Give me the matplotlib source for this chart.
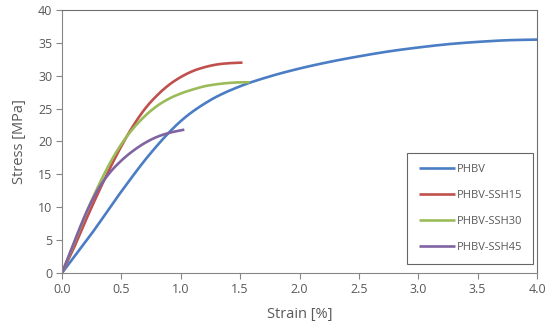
import matplotlib
matplotlib.use("Agg")
import matplotlib.pyplot as plt
import numpy as np

plt.rcParams['font.family'] = ['Open Sans', 'DejaVu Sans']

# strain [%] / stress [MPa]
phbv_strain = [0, 0.25, 0.5, 0.75, 1.0, 1.25, 1.5, 1.75, 2.0, 2.25, 2.5, 2.75, 3.0, 3.25, 3.5, 3.75, 4.0]
phbv_stress = [0, 6.0, 12.4, 18.3, 23.1, 26.3, 28.4, 29.9, 31.1, 32.1, 32.95, 33.7, 34.3, 34.8, 35.15, 35.4, 35.5]

ssh15_strain = [0, 0.1, 0.2, 0.3, 0.4, 0.5, 0.6, 0.7, 0.8, 0.9, 1.0, 1.1, 1.2, 1.3, 1.4, 1.52]
ssh15_stress = [0, 3.8, 8.0, 12.0, 15.8, 19.3, 22.4, 25.0, 27.0, 28.6, 29.8, 30.7, 31.3, 31.7, 31.9, 32.0]

ssh30_strain = [0, 0.1, 0.2, 0.3, 0.4, 0.5, 0.6, 0.7, 0.8, 0.9, 1.0, 1.1, 1.2, 1.3, 1.4, 1.5, 1.58]
ssh30_stress = [0, 4.5, 9.0, 13.0, 16.6, 19.6, 22.0, 23.9, 25.4, 26.5, 27.3, 27.9, 28.4, 28.7, 28.9, 29.0, 29.0]

ssh45_strain = [0, 0.1, 0.2, 0.3, 0.4, 0.5, 0.6, 0.7, 0.8, 0.9, 1.0, 1.03]
ssh45_stress = [0, 4.6, 9.0, 12.6, 15.2, 17.1, 18.6, 19.8, 20.7, 21.3, 21.7, 21.8]

labels = ['PHBV', 'PHBV-SSH15', 'PHBV-SSH30', 'PHBV-SSH45']
colors = ['#4a7dc4', '#c0504d', '#9bbb59', '#8064a2']


def smooth(x, y, n=20):
    # Catmull-Rom spline through the points, like Excel's smoothed line
    p = np.column_stack([x, y]).astype(float)
    p = np.vstack([2 * p[0] - p[1], p, 2 * p[-1] - p[-2]])
    out = []
    t = np.linspace(0, 1, n, endpoint=False)[:, None]
    for i in range(1, len(p) - 2):
        p0, p1, p2, p3 = p[i - 1], p[i], p[i + 1], p[i + 2]
        seg = 0.5 * ((2 * p1) + (-p0 + p2) * t
                     + (2 * p0 - 5 * p1 + 4 * p2 - p3) * t ** 2
                     + (-p0 + 3 * p1 - 3 * p2 + p3) * t ** 3)
        out.append(seg)
    out.append(p[-2][None, :])
    out = np.vstack(out)
    return out[:, 0], out[:, 1]


fig = plt.figure(figsize=(5.5, 3.28), dpi=100)
ax = fig.add_axes([0.1127, 0.1677, 0.8637, 0.8018])

grey = '#595959'
series = [(phbv_strain, phbv_stress), (ssh15_strain, ssh15_stress),
          (ssh30_strain, ssh30_stress), (ssh45_strain, ssh45_stress)]
for (sx, sy), lab, c in zip(series, labels, colors):
    xs, ys = smooth(sx, sy)
    ax.plot(xs, ys, color=c, lw=1.9, label=lab, solid_capstyle='butt')

ax.set_xlim(0, 4)
ax.set_ylim(0, 40)
ax.set_xticks(np.arange(0, 4.01, 0.5))
ax.set_xticklabels(['%.1f' % v for v in np.arange(0, 4.01, 0.5)])
ax.set_yticks(np.arange(0, 41, 5))

ax.tick_params(direction='out', length=4, width=0.8, color='#868686',
               labelcolor=grey, labelsize=9, pad=3)
for s in ax.spines.values():
    s.set_color('#868686')
    s.set_linewidth(0.8)
ax.spines['top'].set_color('#6e6e6e')
ax.spines['right'].set_color('#6e6e6e')

ax.set_xlabel('Strain [%]', color=grey, fontsize=10.5, labelpad=8)
ax.set_ylabel('Stress [MPa]', color=grey, fontsize=10.5, labelpad=8)

leg = ax.legend(loc='lower right', bbox_to_anchor=(0.9925, 0.033), fontsize=8,
                frameon=True, fancybox=False, handlelength=3.3,
                handletextpad=0.15, labelspacing=1.35, borderpad=1.0,
                borderaxespad=0)
leg.get_frame().set_edgecolor('#404040')
leg.get_frame().set_linewidth(0.8)
for t in leg.get_texts():
    t.set_color(grey)

fig.savefig('out.png', dpi=100)
